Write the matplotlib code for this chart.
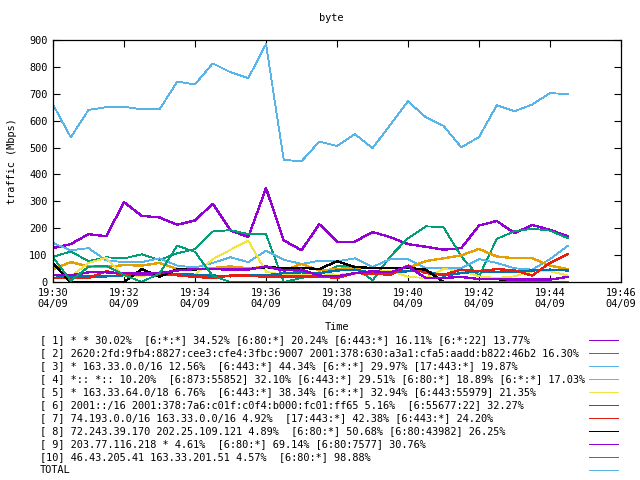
import matplotlib
matplotlib.use("Agg")
import matplotlib.pyplot as plt
import matplotlib.dates as mdates
from matplotlib.lines import Line2D
import pandas as pd

title = "byte"
x_label = "Time"
y_label = "traffic (Mbps)"
start_time = "2009-04-09 19:30:00"
n_points = 30
x_start = "2009-04-09 19:30"
x_end = "2009-04-09 19:46"
y_ticks = [0, 100, 200, 300, 400, 500, 600, 700, 800, 900]

labels = [
    "[ 1] * * 30.02%  [6:*:*] 34.52% [6:80:*] 20.24% [6:443:*] 16.11% [6:*:22] 13.77%",
    "[ 2] 2620:2fd:9fb4:8827:cee3:cfe4:3fbc:9007 2001:378:630:a3a1:cfa5:aadd:b822:46b2 16.30%",
    "[ 3] * 163.33.0.0/16 12.56%  [6:443:*] 44.34% [6:*:*] 29.97% [17:443:*] 19.87%",
    "[ 4] *:: *:: 10.20%  [6:873:55852] 32.10% [6:443:*] 29.51% [6:80:*] 18.89% [6:*:*] 17.03%",
    "[ 5] * 163.33.64.0/18 6.76%  [6:443:*] 38.34% [6:*:*] 32.94% [6:443:55979] 21.35%",
    "[ 6] 2001::/16 2001:378:7a6:c01f:c0f4:b000:fc01:ff65 5.16%  [6:55677:22] 32.27%",
    "[ 7] 74.193.0.0/16 163.33.0.0/16 4.92%  [17:443:*] 42.38% [6:443:*] 24.20%",
    "[ 8] 72.243.39.170 202.25.109.121 4.89%  [6:80:*] 50.68% [6:80:43982] 26.25%",
    "[ 9] 203.77.116.218 * 4.61%  [6:80:*] 69.14% [6:80:7577] 30.76%",
    "[10] 46.43.205.41 163.33.201.51 4.57%  [6:80:*] 98.88%",
    "TOTAL",
]
colors = ["#9400d3", "#009e73", "#56b4e9", "#e69f00", "#f0e442", "#0072b2",
          "#e51e10", "#000000", "#9400d3", "#009e73", "#56b4e9"]
widths = [0.95, 0.6, 0.6, 0.95, 0.6, 0.95, 0.95, 0.95, 0.95, 0.6, 0.6]

s1 = [126, 141, 178, 170, 297, 246, 240, 213, 229, 291, 192, 167, 349, 155, 118,
      215, 150, 150, 186, 167, 141, 131, 120, 126, 210, 227, 182, 212, 194, 170]
s2 = [94, 113, 78, 92, 88, 103, 82, 107, 122, 188, 193, 178, 178, 0, 15,
      27, 58, 58, 6, 95, 163, 207, 204, 95, 21, 160, 189, 198, 191, 163]
s3 = [145, 118, 126, 80, 74, 74, 88, 61, 54, 71, 92, 74, 116, 83, 67,
      79, 77, 88, 56, 85, 85, 51, 54, 51, 85, 71, 51, 46, 85, 135]
s4 = [48, 74, 58, 56, 63, 61, 71, 48, 48, 52, 58, 51, 56, 43, 67,
      43, 48, 54, 51, 51, 52, 78, 88, 99, 123, 95, 88, 88, 61, 48]
s5 = [15, 21, 71, 90, 21, 21, 36, 30, 27, 85, 120, 154, 38, 27, 27,
      33, 27, 31, 40, 43, 19, 15, 48, 43, 21, 15, 21, 40, 40, 24]
s6 = [15, 21, 21, 21, 25, 27, 27, 31, 27, 24, 21, 27, 25, 33, 36,
      33, 43, 46, 33, 36, 40, 40, 24, 33, 40, 37, 37, 43, 46, 43]
s7 = [15, 15, 15, 40, 27, 27, 27, 25, 19, 15, 24, 24, 19, 21, 21,
      21, 15, 33, 31, 27, 61, 33, 27, 46, 40, 48, 43, 24, 71, 104]
s8 = [68, 0, 0, 0, 0, 48, 20, 47, 47, 48, 48, 48, 55, 52, 53,
      48, 77, 56, 52, 52, 52, 46, 0, 0, 0, 0, 8, 0, 0, 0]
s9 = [25, 25, 36, 36, 33, 31, 33, 43, 48, 48, 46, 46, 58, 43, 46,
      24, 21, 33, 40, 36, 58, 15, 15, 19, 11, 11, 9, 9, 9, 19]
s10 = [92, 4, 57, 60, 26, 0, 32, 135, 112, 22, 0, 0, 0, 0, 0,
       0, 0, 0, 0, 0, 0, 0, 0, 0, 0, 0, 0, 0, 0, 0]
total = [660, 538, 640, 650, 652, 642, 642, 745, 735, 813, 780, 758, 885, 454, 449,
         522, 506, 550, 498, 584, 672, 613, 581, 501, 539, 657, 635, 660, 703, 698]
series = [s1, s2, s3, s4, s5, s6, s7, s8, s9, s10, total]

times = pd.date_range(start_time, periods=n_points, freq="30s")

mono = "DejaVu Sans Mono"
fs = 7.4
plt.rcParams["font.family"] = mono

fig = plt.figure(figsize=(6.4, 4.8), dpi=100)
ax = fig.add_axes([53 / 640, 1 - 282 / 480, (621 - 53) / 640, (282 - 40) / 480])

for vals, c, w in zip(series, colors, widths):
    ax.plot(times, vals, color=c, lw=w, antialiased=False, clip_on=True)

ax.set_xlim(pd.Timestamp(x_start), pd.Timestamp(x_end))
ax.set_ylim(0, 900)
ax.set_yticks(y_ticks)
ax.xaxis.set_major_locator(mdates.MinuteLocator(byminute=range(0, 60, 2)))
ax.xaxis.set_major_formatter(mdates.DateFormatter("%H:%M\n%m/%d"))
ax.tick_params(direction="in", length=5, width=0.8, top=True, right=True,
               labelsize=fs, pad=4)
for sp in ax.spines.values():
    sp.set_linewidth(0.9)

fig.text(331 / 640, 1 - 18 / 480, title, ha="center", va="center", fontsize=fs)
fig.text(337 / 640, 1 - 327 / 480, x_label, ha="center", va="center", fontsize=fs)
fig.text(12 / 640, 1 - 161 / 480, y_label, ha="center", va="center",
         rotation=90, fontsize=fs)

for k, (lab, c) in enumerate(zip(labels, colors)):
    yy = 1 - (340 + 13 * k) / 480
    fig.text(40 / 640, yy, lab, ha="left", va="center", fontsize=fs)
    fig.add_artist(Line2D([589 / 640, 618 / 640], [yy, yy], color=c, lw=0.6,
                          transform=fig.transFigure, antialiased=False))

fig.savefig("out.png", dpi=100)
